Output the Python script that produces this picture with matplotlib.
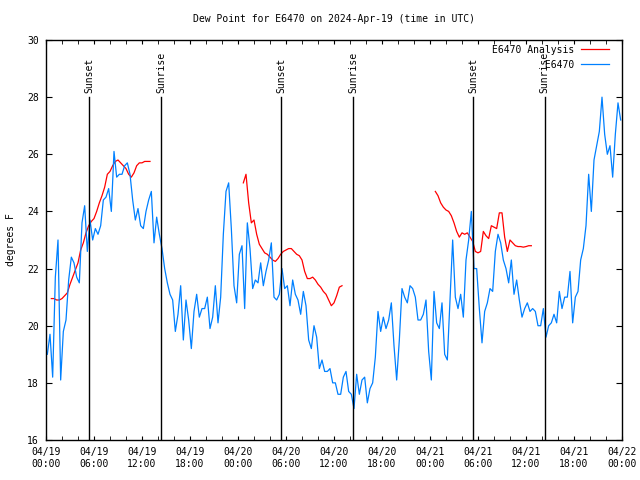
import matplotlib
matplotlib.use('Agg')
import matplotlib.pyplot as plt
import matplotlib.dates as mdates
import pandas as pd
import numpy as np

plt.rcParams['font.family'] = ['DejaVu Sans Mono']
plt.rcParams['font.size'] = 7

# observed dew point, every 20 minutes starting 04/19 00:10 UTC
obs_start = '2024-04-19 00:10'
obs_values = [
    19.0, 19.7, 18.2, 21.7, 23.0, 18.1, 19.8, 20.2, 21.6, 22.4,
    22.2, 21.7, 21.5, 23.6, 24.2, 22.6, 23.7, 23.0, 23.4, 23.2,
    23.5, 24.4, 24.5, 24.8, 24.0, 26.1, 25.2, 25.3, 25.3, 25.6,
    25.7, 25.3, 24.4, 23.7, 24.1, 23.5, 23.4, 24.0, 24.4, 24.7,
    22.9, 23.8, 23.2, 22.7, 22.0, 21.5, 21.1, 20.9, 19.8, 20.4,
    21.4, 19.5, 20.9, 20.2, 19.2, 20.5, 21.1, 20.3, 20.6, 20.6,
    21.0, 19.9, 20.3, 21.4, 20.1, 21.0, 23.2, 24.7, 25.0, 23.4,
    21.4, 20.8, 22.5, 22.8, 20.6, 23.6, 22.7, 21.3, 21.6, 21.5,
    22.2, 21.4, 21.9, 22.3, 22.9, 21.0, 20.9, 21.1, 22.0, 21.3,
    21.4, 20.7, 21.6, 21.1, 20.9, 20.4, 21.2, 20.7, 19.5, 19.2,
    20.0, 19.6, 18.5, 18.8, 18.4, 18.4, 18.5, 18.0, 18.0, 17.6,
    17.6, 18.2, 18.4, 17.7, 17.6, 17.1, 18.3, 17.6, 18.1, 18.2,
    17.3, 17.8, 18.0, 18.9, 20.5, 19.8, 20.3, 19.9, 20.2, 20.8,
    19.3, 18.1, 19.5, 21.3, 21.0, 20.8, 21.4, 21.3, 21.0, 20.2,
    20.2, 20.4, 20.9, 19.1, 18.1, 21.2, 20.1, 19.9, 20.8, 19.0,
    18.8, 20.9, 23.0, 21.0, 20.6, 21.1, 20.3, 22.3, 23.0, 24.0,
    22.0, 22.0, 20.6, 19.4, 20.5, 20.8, 21.3, 21.2, 22.6, 23.2,
    22.9, 22.3, 22.0, 21.5, 22.3, 21.1, 21.6, 20.9, 20.3, 20.6,
    20.8, 20.5, 20.6, 20.5, 20.0, 20.0, 20.6, 19.6, 20.0, 20.1,
    20.4, 20.1, 21.2, 20.6, 21.0, 21.0, 21.9, 20.1, 21.0, 21.2,
    22.3, 22.7, 23.5, 25.3, 24.0, 25.8, 26.3, 26.8, 28.0, 26.7,
    26.0, 26.3, 25.2, 26.7, 27.8, 27.2,
]

# analysis runs, every 20 minutes
ana_starts = ['2024-04-19 00:40', '2024-04-20 00:40', '2024-04-21 00:40']
ana_day1 = [20.95, 20.95, 20.9, 20.9, 20.95, 21.05, 21.15, 21.45, 21.7, 21.95,
            22.2, 22.65, 22.9, 23.25, 23.5, 23.65, 23.75, 24.0, 24.3, 24.55,
            24.85, 25.3, 25.4, 25.6, 25.75, 25.8, 25.7, 25.6, 25.5, 25.3,
            25.2, 25.35, 25.6, 25.7, 25.7, 25.75, 25.75, 25.75]
ana_day2 = [25.0, 25.3, 24.3, 23.6, 23.7, 23.2, 22.85, 22.7, 22.55, 22.5,
            22.4, 22.3, 22.25, 22.35, 22.5, 22.6, 22.65, 22.7, 22.7, 22.6,
            22.5, 22.45, 22.3, 21.9, 21.65, 21.65, 21.7, 21.6, 21.45, 21.35,
            21.2, 21.1, 20.9, 20.7, 20.8, 21.05, 21.35, 21.4]
ana_day3 = [24.7, 24.55, 24.3, 24.15, 24.05, 24.0, 23.85, 23.6, 23.3, 23.1,
            23.25, 23.2, 23.25, 23.1, 22.95, 22.6, 22.55, 22.6, 23.3, 23.15,
            23.05, 23.5, 23.45, 23.4, 23.95, 23.95, 23.1, 22.6, 23.0, 22.9,
            22.8, 22.77, 22.77, 22.75, 22.77, 22.8, 22.8]

sun_times = ['2024-04-19 05:25', '2024-04-19 14:25', '2024-04-20 05:24',
             '2024-04-20 14:24', '2024-04-21 05:24', '2024-04-21 14:20']
sun_labels = ['Sunset', 'Sunrise', 'Sunset', 'Sunrise', 'Sunset', 'Sunrise']

obs = pd.Series(obs_values, index=pd.date_range(obs_start, periods=len(obs_values), freq='20min'))
parts = []
for start, vals in zip(ana_starts, [ana_day1, ana_day2, ana_day3]):
    parts.append(pd.Series(vals, index=pd.date_range(start, periods=len(vals), freq='20min')))
ana = pd.concat(parts)
ana = ana.reindex(pd.date_range(ana.index[0], ana.index[-1], freq='20min'))

fig = plt.figure(figsize=(6.4, 4.8), dpi=100)
ax = fig.add_axes([46 / 640, 40 / 480, 576 / 640, 400 / 480])

ax.plot(ana.index, ana.values, color='#ff0000', lw=0.9, label='E6470 Analysis')
ax.plot(obs.index, obs.values, color='#0080ff', lw=0.9, label='         E6470')

for t, lab in zip(sun_times, sun_labels):
    t = pd.Timestamp(t)
    ax.plot([t, t], [16, 28], color='black', lw=1.0)
    ax.text(t, 28.15, lab, rotation=90, ha='center', va='bottom', fontsize=7)

ax.set_xlim(pd.Timestamp('2024-04-19 00:00'), pd.Timestamp('2024-04-22 00:00'))
ax.set_ylim(16, 30)
ax.set_yticks(np.arange(16, 31, 2))
ax.xaxis.set_major_locator(mdates.HourLocator(byhour=[0, 6, 12, 18]))
ax.xaxis.set_minor_locator(mdates.HourLocator(interval=2))
ax.xaxis.set_major_formatter(mdates.DateFormatter('%m/%d\n%H:%M'))
ax.tick_params(which='both', direction='in', top=True, right=True, labelsize=7)
ax.tick_params(axis='y', which='major', length=4.5, pad=5)
ax.tick_params(axis='x', which='major', length=3, pad=5)
ax.tick_params(axis='x', which='minor', length=3)
for s in ax.spines.values():
    s.set_linewidth(1.0)

ax.set_title('Dew Point for E6470 on 2024-Apr-19 (time in UTC)', fontsize=7, pad=13)
ax.set_ylabel('degrees F', fontsize=7, labelpad=8)

ax.legend(loc='upper right', bbox_to_anchor=(1 - 8 / 576, 1), frameon=False,
          markerfirst=False, fontsize=7, handlelength=2.9, handletextpad=0.7,
          labelspacing=0.5, borderaxespad=0.3, borderpad=0.2)

plt.savefig('out.png', dpi=100)
